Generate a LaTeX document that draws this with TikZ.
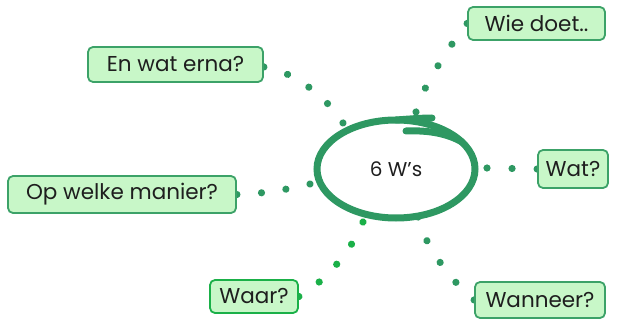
\documentclass[tikz,border=0pt]{standalone}
\usepackage{fontspec}
\setmainfont{Poppins}
\usetikzlibrary{decorations.markings}
\pgfdeclarelayer{background}
\pgfsetlayers{background,main}
\definecolor{gmain}{RGB}{46,152,98}
\definecolor{gfill}{RGB}{200,247,200}
\definecolor{gbord}{RGB}{60,162,104}
\definecolor{gbright}{RGB}{26,176,72}
\definecolor{ink}{RGB}{30,30,30}
\tikzset{
  qbox/.style={draw=gbord, line width=1.8pt, fill=gfill, rounded corners=5pt,
    inner sep=0pt, text=ink, font=\fontsize{21.5}{23}\selectfont},
  dotpath/.style 2 args={decorate, decoration={markings,
    mark=between positions 0 and 1 step #1 with {\fill[#2] (0,0) circle (3.6pt);}}},
  ring/.style={gmain, line width=7pt, line cap=round},
}
\begin{document}
\begin{tikzpicture}[x=1pt,y=-1pt]
\useasboundingbox (0,0) rectangle (618,326);
% boxes
\node[qbox, minimum width=175pt, minimum height=35pt] (ewe) at (175.5,64.5) {En wat erna?};
\node[qbox, minimum width=137pt, minimum height=33pt] (wie) at (536.5,23.5) {Wie doet..};
\node[qbox, minimum width=228pt, minimum height=37pt] (op) at (122,194.5) {Op welke manier?};
\node[qbox, draw=gbright, minimum width=88pt, minimum height=33pt] (waar) at (254,296.5) {Waar?};
\node[qbox, minimum width=130pt, minimum height=36pt] (wanneer) at (540,300) {Wanneer?};
\node[qbox, minimum width=70pt, minimum height=38pt] (wat) at (573,169) {Wat?};
% centre
\node[text=ink, font=\fontsize{20}{22}\selectfont] (c) at (396,169) {6 W's};
\draw[ring] (c.center) ellipse [x radius=79, y radius=49];
\draw[ring] (c.center) ++(0,-49) .. controls ++(14,-1) and ++(-10,0) .. ++(36,-2);
\draw[ring] (c.center) ++(10,-38) .. controls ++(24,-1) and ++(-14,-8) .. ++(56,11);
% connector end points
\coordinate (e1) at (343,123);
\coordinate (e2) at (416,112);
\coordinate (e3) at (487,168);
\coordinate (e4) at (418,217);
\coordinate (e5) at (363,222);
\coordinate (e6) at (310,184);
\begin{pgfonlayer}{background}
\path[dotpath={0.2499}{gmain}] (ewe.east) ++(0,2.5) .. controls (292,71) and (325,95) .. (e1);
\path[dotpath={0.2499}{gmain}] (wie.west) .. controls (455,38) and (420,90) .. (e2);
\path[dotpath={0.4999}{gmain}] (wat.west) -- (e3);
\path[dotpath={0.2499}{gmain}] (wanneer.west) .. controls (452,282) and (424,245) .. (e4);
\path[dotpath={0.2499}{gbright}] (waar.east) .. controls (325,282) and (352,250) .. (e5);
\path[dotpath={0.3333}{gmain}] (op.east) .. controls (262,194) and (290,189) .. (e6);
\end{pgfonlayer}
\end{tikzpicture}
\end{document}
